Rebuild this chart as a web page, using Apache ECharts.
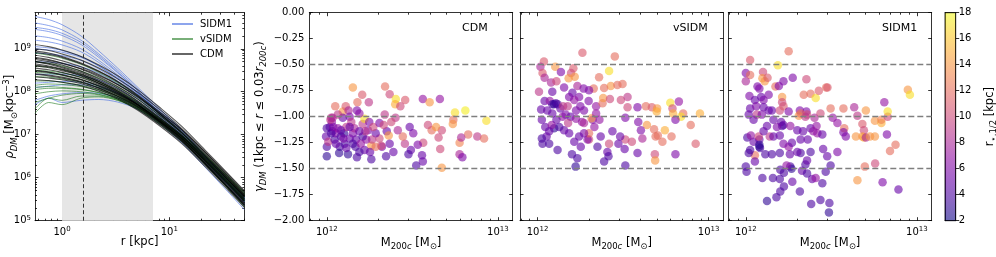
<!DOCTYPE html>
<html><head><meta charset="utf-8">
<script src="https://cdn.jsdelivr.net/npm/echarts@6/dist/echarts.min.js"></script>
<style>html,body{margin:0;padding:0;background:#fff}#c{width:996px;height:257px}</style>
</head><body><div id="c"></div>
<script>
// ---------------- data ----------------
const profileRadii = [0.56, 0.75, 1, 1.5, 2.2, 3.3, 5, 8, 13, 22, 35, 50];
// log10 of rho_DM [Msun/kpc^3] at profileRadii
const sidm1LogRho = [
 [9.75,9.68,9.56,9.30,8.95,8.55,8.12,7.62,7.12,6.50,5.96,5.54],
 [9.60,9.54,9.44,9.20,8.88,8.50,8.08,7.58,7.10,6.48,5.95,5.53],
 [9.45,9.40,9.31,9.10,8.80,8.44,8.04,7.55,7.07,6.46,5.93,5.52],
 [9.30,9.26,9.18,9.00,8.73,8.39,8.00,7.52,7.05,6.44,5.91,5.50],
 [9.20,9.16,9.09,8.93,8.68,8.35,7.97,7.50,7.02,6.42,5.90,5.50],
 [9.05,9.02,8.96,8.82,8.60,8.30,7.94,7.47,7.00,6.40,5.88,5.48],
 [8.90,8.88,8.84,8.73,8.53,8.25,7.90,7.44,6.98,6.38,5.86,5.46],
 [8.70,8.69,8.66,8.58,8.43,8.19,7.86,7.41,6.96,6.36,5.84,5.44],
 [8.40,8.41,8.41,8.37,8.27,8.08,7.79,7.38,6.94,6.36,5.84,5.44],
 [8.10,8.13,8.16,8.16,8.10,7.96,7.72,7.34,6.90,6.32,5.80,5.40],
 [7.80,7.90,7.95,7.98,7.96,7.86,7.66,7.30,6.86,6.28,5.76,5.34],
 [9.50,9.45,9.36,9.15,8.84,8.46,8.04,7.52,7.02,6.40,5.86,5.44],
 [9.00,8.97,8.92,8.80,8.60,8.32,7.98,7.52,7.06,6.46,5.94,5.54],
 [8.20,8.22,8.24,8.22,8.14,7.98,7.74,7.36,6.94,6.38,5.88,5.50],
 [7.70,7.85,7.75,7.80,7.82,7.76,7.60,7.26,6.82,6.22,5.68,5.26]
];
const vsidmLogRho = [
 [8.05,8.08,8.08,8.05,7.98,7.85,7.65,7.32,6.92,6.38,5.88,5.48],
 [7.75,7.85,7.92,7.96,7.93,7.83,7.64,7.32,6.93,6.40,5.90,5.50],
 [7.50,7.75,7.70,7.85,7.88,7.80,7.62,7.30,6.90,6.35,5.85,5.45],
 [8.25,8.25,8.22,8.15,8.05,7.90,7.68,7.33,6.92,6.38,5.87,5.47],
 [8.45,8.43,8.38,8.28,8.14,7.96,7.72,7.36,6.95,6.40,5.90,5.50],
 [8.60,8.57,8.52,8.40,8.24,8.03,7.76,7.38,6.96,6.42,5.92,5.52],
 [8.90,8.85,8.78,8.64,8.45,8.21,7.91,7.50,7.06,6.50,6.00,5.60],
 [8.15,8.18,8.17,8.12,8.03,7.89,7.68,7.35,6.95,6.42,5.93,5.55],
 [7.95,8.00,8.02,8.00,7.94,7.82,7.62,7.28,6.86,6.30,5.78,5.36],
 [8.35,8.34,8.30,8.22,8.10,7.93,7.70,7.36,6.96,6.43,5.95,5.58],
 [7.60,7.85,7.80,7.90,7.90,7.80,7.60,7.26,6.85,6.28,5.75,5.32],
 [8.70,8.66,8.60,8.48,8.32,8.11,7.84,7.46,7.05,6.52,6.04,5.66],
 [8.50,8.48,8.44,8.34,8.20,8.01,7.76,7.40,7.00,6.48,6.00,5.62],
 [8.10,8.12,8.10,8.06,7.98,7.86,7.67,7.36,6.98,6.48,6.02,5.65]
];
const cdmLogRho = [
 [9.10,9.05,8.97,8.82,8.62,8.37,8.06,7.65,7.20,6.62,6.10,5.70],
 [9.00,8.96,8.88,8.74,8.55,8.30,8.00,7.60,7.15,6.58,6.05,5.65],
 [8.92,8.87,8.80,8.65,8.47,8.24,7.94,7.55,7.12,6.55,6.03,5.62],
 [8.85,8.80,8.72,8.58,8.40,8.17,7.88,7.50,7.08,6.52,6.00,5.60],
 [8.80,8.75,8.67,8.53,8.35,8.12,7.84,7.46,7.04,6.49,5.98,5.58],
 [8.75,8.70,8.62,8.48,8.30,8.08,7.80,7.42,7.00,6.45,5.95,5.55],
 [8.70,8.66,8.58,8.45,8.27,8.05,7.78,7.40,6.98,6.42,5.92,5.52],
 [8.65,8.60,8.53,8.40,8.23,8.02,7.75,7.38,6.96,6.40,5.90,5.50],
 [8.60,8.56,8.49,8.37,8.20,7.99,7.72,7.35,6.93,6.37,5.86,5.46],
 [8.55,8.51,8.45,8.33,8.17,7.96,7.70,7.33,6.92,6.36,5.85,5.45],
 [8.48,8.45,8.39,8.28,8.13,7.93,7.67,7.30,6.88,6.32,5.80,5.40],
 [8.42,8.39,8.34,8.24,8.09,7.89,7.64,7.28,6.86,6.30,5.78,5.38],
 [8.35,8.32,8.28,8.19,8.05,7.86,7.61,7.25,6.84,6.28,5.76,5.35],
 [8.28,8.26,8.22,8.14,8.01,7.83,7.58,7.22,6.80,6.24,5.72,5.31],
 [8.95,8.90,8.82,8.67,8.48,8.23,7.92,7.50,7.05,6.48,5.96,5.56],
 [8.78,8.73,8.66,8.54,8.38,8.17,7.90,7.53,7.12,6.58,6.08,5.68],
 [8.62,8.58,8.51,8.38,8.20,7.98,7.70,7.31,6.88,6.30,5.78,5.36],
 [8.50,8.46,8.40,8.29,8.14,7.95,7.70,7.36,6.97,6.45,5.96,5.58],
 [8.70,8.64,8.56,8.42,8.24,8.01,7.72,7.33,6.90,6.33,5.82,5.42],
 [8.40,8.37,8.32,8.22,8.08,7.90,7.66,7.32,6.92,6.38,5.88,5.48]
];
const coreShade = [1, 7.05];
const coreLineR = 1.59;

// [M200c (Msun), gamma_DM, r_half (kpc)]
const cdmPoints = [
[1.42e12,-0.72,14],[2.19e12,-0.71,12],[2.33e12,-0.785,10],[1.61e12,-0.79,11],[1.76e12,-0.86,9],[1.51e12,-0.86,12],[2.53e12,-0.83,17],[2.51e12,-0.88,15],[2.87e12,-0.84,11],[2.69e12,-0.90,10],[3.64e12,-0.83,7],[3.99e12,-0.86,14],[4.58e12,-0.83,7],[1.24e12,-0.95,14],[1.12e12,-0.90,12],[1.29e12,-0.90,11],[5.61e12,-0.96,17],[6.45e12,-0.94,17.5],[8.56e12,-1.04,17],[5.49e12,-1.03,12],[5.45e12,-1.07,14],[7.58e12,-1.19,9],[6.7e12,-1.17,12],[8.3e12,-1.21,12],[5.97e12,-1.25,13],[6.1e12,-1.20,8],[5.97e12,-1.36,8],[6.2e12,-1.39,6],[4.7e12,-1.49,14],[4.6e12,-1.31,10],[4.5e12,-1.20,10],[4.7e12,-1.13,10],[4.1e12,-1.13,12],[3.9e12,-1.08,10],[4.35e12,-1.10,14],[3.6e12,-1.37,5],[3.33e12,-1.47,4],[3.64e12,-1.43,5],[3.66e12,-1.25,10],[3.4e12,-1.27,6],[3.2e12,-1.16,6],[3.05e12,-1.10,5],[3.1e12,-1.32,5],[3.0e12,-1.36,4],[2.86e12,-1.26,9],[2.78e12,-1.19,12],[2.6e12,-1.13,8],[2.52e12,-1.01,9],[2.38e12,-1.05,10],[2.24e12,-1.14,5],[2.3e12,-1.18,14],[2.33e12,-1.26,5],[2.22e12,-1.38,4],[2.45e12,-1.34,5],[2.1e12,-1.29,6],[2.03e12,-1.21,10],[1.93e12,-1.16,5],[1.82e12,-1.28,14],[1.84e12,-1.22,9],[1.82e12,-1.41,4],[1.79e12,-1.34,5],[1.66e12,-1.32,5],[1.55e12,-1.34,4],[1.5e12,-1.39,4],[1.7e12,-1.22,7],[1.74e12,-1.13,6],[1.62e12,-1.07,9],[1.66e12,-1.02,17],[1.55e12,-0.97,7],[1.5e12,-0.94,6],[1.34e12,-0.94,8],[1.36e12,-1.0,6],[1.24e12,-1.01,5],[1.16e12,-0.98,9],[1.06e12,-1.01,9],[1.07e12,-1.05,7],[1.04e12,-1.10,5],[1.0e12,-1.11,4],[0.99e12,-1.19,5],[1.0e12,-1.29,4],[1.0e12,-1.38,3],[1.02e12,-1.24,9],[1.08e12,-1.14,5],[1.11e12,-1.22,4],[1.13e12,-1.16,6],[1.16e12,-1.11,7],[1.19e12,-1.29,4],[1.21e12,-1.19,4],[1.26e12,-1.16,3],[1.27e12,-1.26,4],[1.3e12,-1.10,9],[1.18e12,-1.35,3],[1.33e12,-1.36,3],[1.36e12,-1.21,5],[1.42e12,-1.16,6],[1.45e12,-1.11,8],[1.39e12,-1.05,9],[1.48e12,-1.22,5],[1.47e12,-1.29,4],[1.62e12,-1.19,4],[1.68e12,-1.14,9],[1.77e12,-1.05,6],[1.87e12,-1.10,10],[2.03e12,-1.06,6],[2.15e12,-1.08,10],[2.18e12,-0.98,9],[2.08e12,-1.28,10],[1.93e12,-1.29,12],[1.36e12,-1.10,5],[1.13e12,-1.26,5],[1.25e12,-1.21,6],[1.06e12,-1.16,4],[1.09e12,-1.10,6],[1.21e12,-1.13,5],[1.3e12,-1.30,5],[1.42e12,-1.26,4],[1.58e12,-1.26,7],[1.55e12,-1.14,5],[1.05e12,-1.03,9],[1.08e12,-1.01,8]
];
const vsidmPoints = [
[1.83e12,-0.385,11],[2.83e12,-0.42,12],[1.09e12,-0.47,11],[1.04e12,-0.52,8],[1.27e12,-0.52,14],[1.37e12,-0.57,6],[1.07e12,-0.58,11],[1.1e12,-0.625,8],[1.62e12,-0.535,11],[1.57e12,-0.58,10],[1.65e12,-0.615,14],[1.52e12,-0.63,14],[2.62e12,-0.56,17],[2.29e12,-0.62,12],[2.68e12,-0.705,14],[2.93e12,-0.695,12],[3.14e12,-0.685,12],[2.45e12,-0.725,12],[2.13e12,-0.73,12],[1.2e12,-0.67,8],[1.29e12,-0.66,10],[1.43e12,-0.72,6],[1.22e12,-0.76,5],[1.02e12,-0.76,9],[1.71e12,-0.705,8],[1.86e12,-0.73,6],[2.0e12,-0.745,6],[1.6e12,-0.77,5],[1.75e12,-0.81,6],[1.1e12,-0.85,5],[1.18e12,-0.85,7],[1.28e12,-0.87,4],[1.22e12,-0.88,4],[1.05e12,-0.93,5],[1.14e12,-0.94,5],[1.36e12,-0.92,5],[1.5e12,-0.90,9],[1.64e12,-0.84,7],[1.78e12,-0.90,6],[1.99e12,-0.85,6],[2.2e12,-0.90,7],[2.4e12,-0.87,12],[2.42e12,-0.82,14],[2.65e12,-0.83,10],[3.07e12,-0.84,10],[3.36e12,-0.81,9],[3.36e12,-0.91,10],[3.84e12,-0.91,6],[4.3e12,-0.90,12],[4.66e12,-0.91,11],[5.0e12,-0.92,14],[4.97e12,-0.95,15],[5.97e12,-0.865,17],[6.7e12,-0.855,7],[6.15e12,-0.92,10],[6.2e12,-0.97,15],[7.1e12,-0.97,12],[6.9e12,-1.0,17],[8.9e12,-0.97,15],[6.4e12,-1.03,6],[4.36e12,-1.08,14],[4.8e12,-1.12,12],[5.55e12,-1.13,15],[5.05e12,-1.18,12],[4.9e12,-1.19,12],[6.07e12,-1.19,12],[5.37e12,-1.24,12],[7.86e12,-1.08,12],[8.4e12,-1.26,11],[4.85e12,-1.36,10],[4.87e12,-1.42,14],[6.4e12,-1.36,6],[3.88e12,-1.05,6],[4.02e12,-1.13,6],[3.26e12,-1.01,6],[3.26e12,-1.22,10],[3.56e12,-1.24,10],[4.1e12,-1.21,8],[3.84e12,-1.35,5],[3.23e12,-1.31,5],[3.26e12,-1.47,4],[2.97e12,-1.26,5],[3.04e12,-1.19,5],[2.74e12,-1.14,5],[2.62e12,-1.26,10],[2.56e12,-1.34,5],[2.6e12,-1.38,4],[2.45e12,-1.43,4],[2.34e12,-1.19,5],[2.24e12,-1.29,4],[2.15e12,-1.10,7],[2.1e12,-1.03,6],[2.3e12,-1.03,7],[2.0e12,-1.22,10],[1.96e12,-1.22,6],[2.0e12,-1.16,12],[2.07e12,-1.015,14],[1.87e12,-1.16,6],[1.75e12,-1.19,5],[1.79e12,-1.29,5],[1.71e12,-1.40,4],[1.67e12,-1.48,3],[1.59e12,-1.36,4],[1.64e12,-1.24,5],[1.53e12,-1.16,5],[1.43e12,-1.13,5],[1.31e12,-1.32,4],[1.25e12,-1.11,3],[1.34e12,-1.10,4],[1.13e12,-1.19,5],[1.07e12,-1.26,4],[1.06e12,-1.21,4],[1.17e12,-1.26,4],[1.06e12,-1.03,5],[1.11e12,-1.10,5],[1.21e12,-1.08,7],[1.4e12,-1.0,7],[1.46e12,-0.98,6],[1.56e12,-1.0,5],[1.68e12,-1.02,7],[1.82e12,-1.05,7],[1.87e12,-1.06,8],[1.51e12,-1.06,9],[1.29e12,-1.03,5],[1.25e12,-0.88,3],[1.31e12,-0.88,4],[1.68e12,-0.94,6],[1.53e12,-0.81,6],[1.87e12,-0.94,6],[2.2e12,-0.97,7],[1.22e12,-0.97,5],[1.17e12,-1.14,5],[1.41e12,-0.90,9]
];
const sidm1Points = [
[1.78e12,-0.37,12],[1.06e12,-0.455,11],[1.54e12,-0.505,17],[1.0e12,-0.58,6],[1.06e12,-0.60,12],[1.0e12,-0.66,8],[1.26e12,-0.57,10],[1.25e12,-0.63,14],[1.29e12,-0.66,14],[1.34e12,-0.625,11],[1.49e12,-0.71,12],[1.56e12,-0.705,6],[1.66e12,-0.66,6],[1.88e12,-0.625,6],[2.26e12,-0.64,10],[1.63e12,-0.81,14],[1.05e12,-0.80,6],[1.17e12,-0.71,6],[1.2e12,-0.73,6],[1.23e12,-0.81,5],[1.36e12,-0.79,6],[1.13e12,-0.84,5],[1.27e12,-0.84,6],[2.18e12,-0.79,12],[2.39e12,-0.78,12],[2.56e12,-0.82,17],[2.67e12,-0.75,11],[2.95e12,-0.72,12],[3.0e12,-0.72,11],[8.85e12,-0.74,14],[9.1e12,-0.79,17],[6.45e12,-0.86,7],[1.06e12,-0.92,5],[1.15e12,-0.90,6],[1.27e12,-0.91,5],[1.42e12,-0.94,5],[1.04e12,-0.98,5],[1.16e12,-0.98,9],[1.11e12,-1.03,5],[1.24e12,-0.98,6],[1.36e12,-0.94,5],[1.58e12,-0.94,10],[1.66e12,-0.90,11],[1.63e12,-0.86,10],[1.78e12,-0.95,6],[2.07e12,-0.94,6],[2.26e12,-0.95,6],[2.28e12,-0.98,10],[2.04e12,-0.99,14],[2.09e12,-0.97,12],[2.23e12,-1.0,9],[2.52e12,-1.01,8],[2.73e12,-0.97,10],[3.13e12,-0.92,12],[3.72e12,-0.92,12],[4.3e12,-0.91,8],[5.03e12,-0.94,14],[4.49e12,-0.99,9],[3.22e12,-1.01,7],[3.43e12,-1.06,7],[3.76e12,-1.11,12],[3.72e12,-1.15,6],[3.84e12,-1.19,6],[4.8e12,-1.07,11],[4.9e12,-1.13,10],[4.8e12,-1.19,14],[4.9e12,-1.20,15],[4.4e12,-1.19,14],[5.03e12,-1.20,8],[5.32e12,-1.19,14],[5.68e12,-1.19,14],[5.68e12,-1.04,14],[6.2e12,-1.06,15],[6.2e12,-1.03,13],[6.75e12,-1.0,10],[6.75e12,-0.95,17],[6.68e12,-1.17,6],[6.96e12,-1.33,12],[7.5e12,-1.27,12],[4.96e12,-1.48,12],[4.49e12,-1.61,14],[5.7e12,-1.45,10],[6.3e12,-1.63,6],[7.8e12,-1.70,5],[3.43e12,-1.34,6],[2.99e12,-1.38,5],[3.13e12,-1.47,4],[2.93e12,-1.53,4],[2.83e12,-1.31,5],[2.8e12,-1.64,4],[2.73e12,-1.80,4],[3.08e12,-1.83,4],[3.06e12,-1.92,3],[2.41e12,-1.84,4],[2.07e12,-1.72,4],[1.87e12,-1.625,5],[1.67e12,-1.67,4],[1.59e12,-1.72,4],[1.51e12,-1.775,4],[1.33e12,-1.81,3],[1.25e12,-1.59,4],[1.44e12,-1.59,4],[1.58e12,-1.60,4],[1.59e12,-1.51,4],[1.82e12,-1.48,4],[1.85e12,-1.50,3],[1.67e12,-1.54,4],[1.73e12,-1.47,7],[2.13e12,-1.52,5],[2.23e12,-1.46,4],[2.44e12,-1.60,5],[2.28e12,-1.545,4],[2.56e12,-1.59,7],[2.39e12,-1.34,4],[2.09e12,-1.35,4],[2.0e12,-1.34,5],[2.28e12,-1.42,5],[1.81e12,-1.36,5],[1.78e12,-1.29,7],[1.66e12,-1.26,6],[1.58e12,-1.35,4],[1.42e12,-1.36,4],[1.3e12,-1.36,4],[1.13e12,-1.37,12],[1.04e12,-1.35,4],[1.06e12,-1.32,4],[1.0e12,-1.48,4],[1.01e12,-1.53,4],[1.13e12,-1.43,5],[1.21e12,-1.30,4],[1.2e12,-1.29,3],[1.02e12,-1.20,4],[1.11e12,-1.24,5],[1.2e12,-1.22,5],[1.2e12,-1.27,3],[1.38e12,-1.19,9],[1.45e12,-1.19,5],[1.58e12,-1.18,5],[1.66e12,-1.08,5],[1.63e12,-1.09,4],[1.82e12,-1.09,7],[1.45e12,-1.03,5],[1.61e12,-1.05,5],[1.52e12,-1.10,6],[2.0e12,-1.13,5],[2.16e12,-1.14,5],[2.39e12,-1.11,5],[2.48e12,-1.14,7],[2.62e12,-1.16,7],[2.59e12,-1.09,7],[2.8e12,-1.17,5],[2.09e12,-1.22,5],[2.3e12,-1.22,5],[1.86e12,-1.25,5],[1.07e12,-1.18,7],[1.19e12,-1.19,10],[1.27e12,-1.14,5],[1.33e12,-1.09,5]
];
const gammaRefLines = [-0.5, -1.0, -1.5];
const panelNames = ['CDM', 'vSIDM', 'SIDM1'];
const legendNames = ['SIDM1', 'vSIDM', 'CDM'];
const rTicks = [1, 10];
const rhoTicks = [1e5, 1e6, 1e7, 1e8, 1e9];
const massTicks = [1e12, 1e13];
const colorbarRange = [2, 18];
const plasma = ['#0d0887','#41049d','#6a00a8','#8f0da4','#b12a90','#cc4778','#e16462','#f2844b','#fca636','#fcce25','#f0f921'];

// ---------------- helpers ----------------
function minorLog(lo, hi) { // minor tick positions 2..9 x 10^n within [lo, hi]
  const out = [];
  for (let e = Math.floor(Math.log10(lo)); e <= Math.ceil(Math.log10(hi)); e++) {
    for (let k = 2; k <= 9; k++) { const v = k * Math.pow(10, e); if (v >= lo && v <= hi) out.push(v); }
  }
  return out;
}
const font = 'DejaVu Sans';
const C = '#000';
const tickRich = {
  b: {fontSize: 10, fontFamily: font, color: C, lineHeight: 13},
  sup: {fontSize: 7, fontFamily: font, color: C, lineHeight: 7, verticalAlign: 'top'}
};
const nameRich = {
  b: {fontSize: 11.5, fontFamily: font, color: C, lineHeight: 17},
  i: {fontSize: 11.5, fontFamily: font, color: C, lineHeight: 17, fontStyle: 'italic'},
  sub: {fontSize: 8.5, fontFamily: font, color: C, lineHeight: 9, verticalAlign: 'bottom'},
  subi: {fontSize: 8.5, fontFamily: font, color: C, lineHeight: 9, verticalAlign: 'bottom', fontStyle: 'italic'},
  sup: {fontSize: 8.5, fontFamily: font, color: C, lineHeight: 9, verticalAlign: 'top'}
};
const expFmt = v => '{b|10}{sup|' + Math.round(Math.log10(v)) + '}';
const gFmt = v => v.toFixed(2).replace('-', '\u2212');

const grids = [
  {left: 35, top: 12.7, width: 209.3, height: 208},
  {left: 309.3, top: 12.7, width: 203.4, height: 208},
  {left: 520, top: 12.7, width: 203.4, height: 208},
  {left: 728.3, top: 12.7, width: 203.4, height: 208},
  {left: 945, top: 12.7, width: 10.7, height: 208}
].map(g => Object.assign(g, {containLabel: false, outerBoundsMode: 'none'}));
const xAxes = [], yAxes = [];
function axis(list, o) {
  const a = {
    gridIndex: o.grid, type: o.type, min: o.min, max: o.max, position: o.pos, silent: true,
    axisLine: {show: !!o.line, onZero: false, lineStyle: {color: C, width: 0.8}},
    axisTick: {show: !!o.ticks || o.interval != null, inside: o.inside !== false, length: o.len || 3.5, lineStyle: {color: C, width: 0.8}},
    axisLabel: {show: !!o.labels, fontSize: 10, fontFamily: font, color: C, margin: o.margin || 4, rich: tickRich},
    splitLine: {show: false}, minorTick: {show: false}, minorSplitLine: {show: false}
  };
  if (o.type === 'log') a.logBase = 10;
  if (o.ticks) a.axisTick.customValues = o.ticks;
  if (o.interval != null) a.interval = o.interval;
  if (o.labels) { if (o.ticks) a.axisLabel.customValues = o.ticks; a.axisLabel.formatter = o.fmt; }
  if (o.name) {
    a.name = o.name; a.nameLocation = 'middle'; a.nameGap = o.nameGap; a.nameRotate = o.nameRotate || 0;
    a.nameMoveOverlap = false;
    a.nameTextStyle = {rich: nameRich};
  }
  list.push(a);
  return list.length - 1;
}
// Panel 1 axes
const rMin = 0.56, rMax = 50, rhoMin = 1e5, rhoMax = 6.9e9;
const X0 = axis(xAxes, {grid: 0, type: 'log', min: rMin, max: rMax, pos: 'bottom', line: 1, ticks: rTicks, labels: 1, fmt: expFmt, margin: 5,
  name: '{b|r [kpc]}', nameGap: 13});
axis(xAxes, {grid: 0, type: 'log', min: rMin, max: rMax, pos: 'bottom', ticks: minorLog(rMin, rMax), len: 2});
axis(xAxes, {grid: 0, type: 'log', min: rMin, max: rMax, pos: 'top', line: 1, ticks: rTicks});
axis(xAxes, {grid: 0, type: 'log', min: rMin, max: rMax, pos: 'top', ticks: minorLog(rMin, rMax), len: 2});
const Y0 = axis(yAxes, {grid: 0, type: 'log', min: rhoMin, max: rhoMax, pos: 'left', line: 1, ticks: rhoTicks, labels: 1, fmt: expFmt, margin: 4,
  name: '{i|\u03c1}{subi|DM}{b| [M}{sub|\u2299}{b|kpc}{sup|\u22123}{b|]}', nameGap: 16, nameRotate: 90});
axis(yAxes, {grid: 0, type: 'log', min: rhoMin, max: rhoMax, pos: 'left', ticks: minorLog(rhoMin, rhoMax), len: 2});
axis(yAxes, {grid: 0, type: 'log', min: rhoMin, max: rhoMax, pos: 'right', line: 1, ticks: rhoTicks});
axis(yAxes, {grid: 0, type: 'log', min: rhoMin, max: rhoMax, pos: 'right', ticks: minorLog(rhoMin, rhoMax), len: 2});
// Scatter panels
const mMin = 7.9e11, mMax = 1.22e13;
const SX = [], SY = [];
for (let p = 0; p < 3; p++) {
  const g = p + 1;
  SX.push(axis(xAxes, {grid: g, type: 'log', min: mMin, max: mMax, pos: 'bottom', line: 1, ticks: massTicks, labels: 1, fmt: expFmt, margin: 5,
    name: '{b|M}{sub|200}{subi|c}{b| [M}{sub|\u2299}{b|]}', nameGap: 14}));
  axis(xAxes, {grid: g, type: 'log', min: mMin, max: mMax, pos: 'bottom', ticks: minorLog(mMin, mMax), len: 2});
  axis(xAxes, {grid: g, type: 'log', min: mMin, max: mMax, pos: 'top', line: 1, ticks: massTicks});
  axis(xAxes, {grid: g, type: 'log', min: mMin, max: mMax, pos: 'top', ticks: minorLog(mMin, mMax), len: 2});
  const yo = {grid: g, type: 'value', min: -2, max: 0, interval: 0.25, pos: 'left', line: 1};
  if (p === 0) Object.assign(yo, {labels: 1, fmt: gFmt, margin: 5,
    name: '{i|\u03b3}{subi|DM}{b| (1kpc \u2264 }{i|r}{b| \u2264 0.03}{i|r}{subi|200c}{b|)}', nameGap: 41, nameRotate: 90});
  SY.push(axis(yAxes, yo));
  axis(yAxes, {grid: g, type: 'value', min: -2, max: 0, interval: 0.25, pos: 'right', line: 1});
}
// Colorbar axes
const CX = axis(xAxes, {grid: 4, type: 'value', min: 0, max: 1, pos: 'bottom', line: 1});
axis(xAxes, {grid: 4, type: 'value', min: 0, max: 1, pos: 'top', line: 1});
const CY = axis(yAxes, {grid: 4, type: 'value', min: colorbarRange[0], max: colorbarRange[1], interval: 2, pos: 'right', line: 1, inside: false,
  labels: 1, fmt: v => String(v), margin: 3,
  name: '{b|r}{sub|\u22c6,1/2}{b| [kpc]}', nameGap: 26, nameRotate: 90});
axis(yAxes, {grid: 4, type: 'value', min: colorbarRange[0], max: colorbarRange[1], pos: 'left', line: 1});
xAxes[CX].axisTick.show = false; xAxes[CX + 1].axisTick.show = false;
yAxes[CY + 1].axisTick.show = false;

// ---------------- series ----------------
const series = [];
series.push({type: 'line', xAxisIndex: X0, yAxisIndex: Y0, data: [], z: 1, silent: true,
  markArea: {silent: true, itemStyle: {color: '#e6e6e6'}, data: [[{xAxis: coreShade[0]}, {xAxis: coreShade[1]}]]}});
function addProfiles(rows, name, color, width, opacity) {
  rows.forEach(row => series.push({
    type: 'line', name, xAxisIndex: X0, yAxisIndex: Y0, symbol: 'none', showSymbol: false, silent: true, z: 2,
    smooth: 0.3, itemStyle: {color}, lineStyle: {color, width, opacity},
    data: profileRadii.map((r, i) => [r, Math.pow(10, row[i])])
  }));
}
addProfiles(sidm1LogRho, 'SIDM1', '#4169e1', 1, 0.6);
addProfiles(vsidmLogRho, 'vSIDM', '#1f7a1f', 1, 0.6);
addProfiles(cdmLogRho, 'CDM', '#000000', 1.1, 0.65);
series.push({type: 'line', xAxisIndex: X0, yAxisIndex: Y0, data: [], z: 5, silent: true,
  markLine: {silent: true, symbol: 'none', label: {show: false}, lineStyle: {color: '#333', type: [4, 2.5], width: 1},
    data: [{xAxis: coreLineR}]}});

const scatterIdx = [];
[cdmPoints, vsidmPoints, sidm1Points].forEach((pts, p) => {
  scatterIdx.push(series.length);
  series.push({
    type: 'scatter', xAxisIndex: SX[p], yAxisIndex: SY[p], data: pts, symbolSize: 8.5, silent: true,
    itemStyle: {opacity: 0.6},
    markLine: {silent: true, symbol: 'none', label: {show: false}, animation: false,
      lineStyle: {color: '#7f7f7f', type: [6, 3], width: 1.3},
      data: gammaRefLines.map(v => ({yAxis: v}))}
  });
});
series.push({
  type: 'custom', xAxisIndex: CX, yAxisIndex: CY, silent: true, data: [[0, colorbarRange[0], colorbarRange[1]]],
  renderItem: (params, api) => {
    const p0 = api.coord([0, api.value(2)]);
    const p1 = api.coord([1, api.value(1)]);
    const shape = {x: p0[0], y: p0[1], width: p1[0] - p0[0], height: p1[1] - p0[1]};
    return {type: 'group', children: [
      {type: 'rect', shape, style: {fill: new echarts.graphic.LinearGradient(0, 1, 0, 0,
        plasma.map((c, i) => ({offset: i / (plasma.length - 1), color: c}))), opacity: 0.6}},
      {type: 'rect', shape, style: {fill: null, stroke: '#000', lineWidth: 0.8}}
    ]};
  }
});

const option = {
  animation: false,
  grid: grids,
  xAxis: xAxes,
  yAxis: yAxes,
  title: [
    {text: panelNames[0], left: 462, top: 23},
    {text: panelNames[1], left: 673, top: 23},
    {text: panelNames[2], left: 882, top: 23}
  ].map(t => Object.assign(t, {padding: 0, textStyle: {fontSize: 11, fontWeight: 'normal', fontFamily: font, color: C}})),
  legend: {
    data: legendNames, orient: 'vertical', left: 172, top: 19, icon: 'rect', itemWidth: 21, itemHeight: 2, itemGap: 5,
    selectedMode: false, padding: 0, itemStyle: {opacity: 0.6},
    textStyle: {fontSize: 10, fontFamily: font, color: C, padding: [0, 0, 0, 2]}
  },
  visualMap: {
    type: 'continuous', show: false, min: colorbarRange[0], max: colorbarRange[1], dimension: 2, seriesIndex: scatterIdx,
    inRange: {color: plasma}
  },
  series
};
const chart = echarts.init(document.getElementById('c'), null, {renderer: 'canvas'});
chart.setOption(option);
</script>
</body></html>
